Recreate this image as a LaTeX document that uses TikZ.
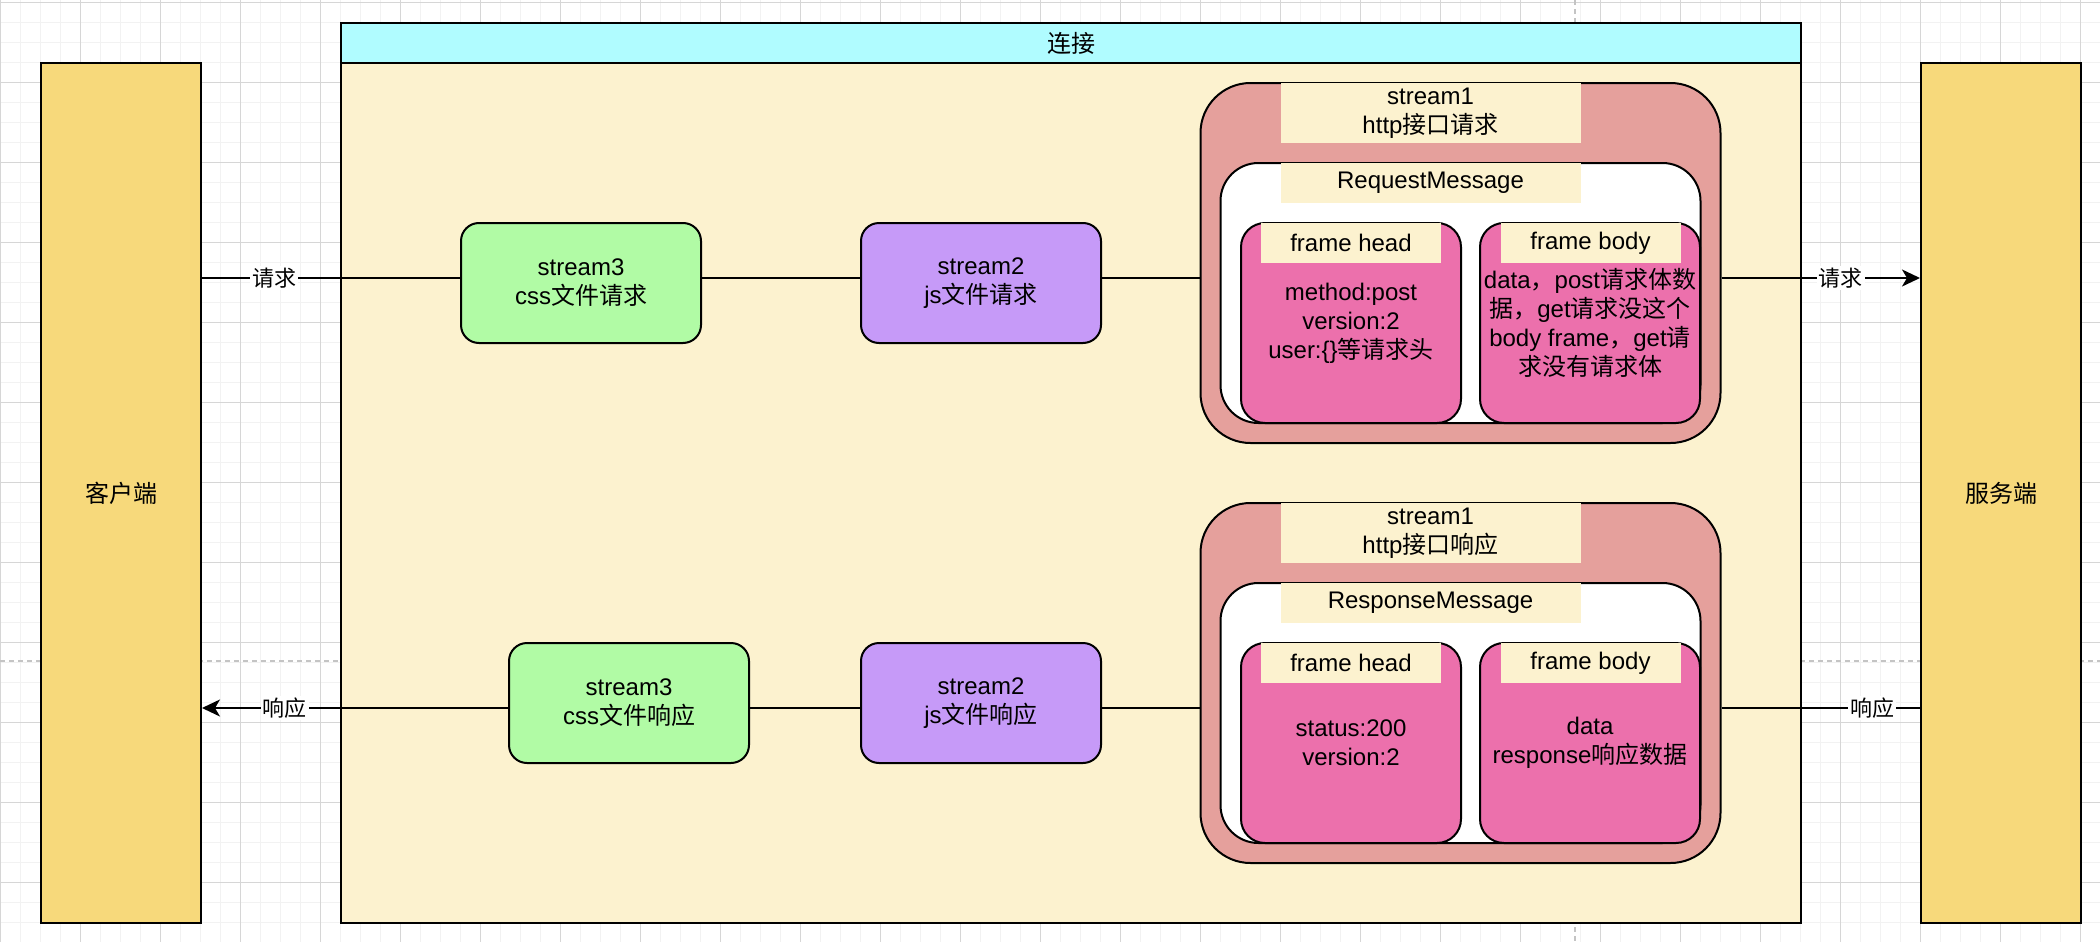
\documentclass[tikz,border=0pt]{standalone}
\usepackage{fontspec}
\setmainfont{Liberation Sans}
\newfontfamily\zhfont{Noto Sans CJK SC}
\newcommand{\zh}[1]{{\zhfont #1}}
\usetikzlibrary{arrows.meta,positioning}
\definecolor{peerfill}{HTML}{F7D97B}
\definecolor{connfill}{HTML}{FCF2CF}
\definecolor{connhead}{HTML}{B0FCFF}
\definecolor{cssfill}{HTML}{B1FBA5}
\definecolor{jsfill}{HTML}{C69AF8}
\definecolor{apifill}{HTML}{E5A09C}
\definecolor{framefill}{HTML}{EC70AC}
\definecolor{gridminor}{HTML}{F2F2F2}
\definecolor{gridmajor}{HTML}{D6D6D6}
\definecolor{gridbreak}{HTML}{C4C4C4}
\begin{document}
\begin{tikzpicture}[x=1pt,y=-1pt,line width=1pt,font=\fontsize{12}{14.4}\selectfont,
    minor line/.style={line width=0.5pt,draw=gridminor},
    major line/.style={line width=0.5pt,draw=gridmajor},
    page break/.style={line width=1pt,draw=gridbreak,dash pattern=on 2.5pt off 2pt},
    peer node/.style={draw,fill=peerfill,minimum width=80pt,minimum height=430pt,inner sep=0pt,font=\fontsize{12}{14.4}\selectfont\zhfont},
    stream node/.style={draw,rounded corners=9pt,minimum width=120pt,minimum height=60pt,inner sep=0pt,align=center},
    group node/.style={draw,fill=apifill,rounded corners=25pt,minimum width=260pt,minimum height=180pt,inner sep=0pt},
    msg node/.style={draw,fill=white,rounded corners=19pt,minimum width=240pt,minimum height=130pt,inner sep=0pt},
    frame node/.style={draw,fill=framefill,rounded corners=12pt,minimum width=110pt,minimum height=100pt,inner sep=0pt,align=center},
    tag node/.style={fill=connfill,inner sep=0pt,align=center},
    edge label/.style={fill=white,inner sep=1pt,font=\fontsize{11}{13}\selectfont\zhfont},
    arrow link/.style={-{Stealth[length=9pt,width=8.5pt,inset=2.5pt]}}]
    \useasboundingbox (0,0) rectangle (1050,471);

    % grid of the canvas
    \fill[white] (0,0) rectangle (1050,471);
    \foreach \x in {0,10,...,1040} \draw[minor line] (\x+0.35,0) -- (\x+0.35,471);
    \foreach \y in {0,10,...,470} \draw[minor line] (0,\y+1.35) -- (1050,\y+1.35);
    \foreach \x in {0,40,...,1040} \draw[major line] (\x+0.35,0) -- (\x+0.35,471);
    \foreach \y in {0,40,...,440} \draw[major line] (0,\y+1.35) -- (1050,\y+1.35);
    \draw[page break] (0,330.5) -- (1050,330.5);
    \draw[page break] (787.5,0) -- (787.5,471);

    % connection
    \node[draw,fill=connfill,minimum width=730pt,minimum height=430pt,inner sep=0pt] (conn) at (535.5,246.5) {};
    \node[draw,fill=connhead,minimum width=730pt,minimum height=20pt,inner sep=0pt,font=\fontsize{12}{14.4}\selectfont\zhfont] (connhead) at (535.5,21.5) {连接};

    \node[peer node] (client) at (60.5,246.5) {客户端};
    \node[peer node] (server) at (1000.5,246.5) {服务端};

    % request
    \node[stream node,fill=cssfill] (s3req) at (290.5,141.5) {stream3\\css\zh{文件请求}};
    \node[stream node,fill=jsfill] (s2req) at (490.5,141.5) {stream2\\js\zh{文件请求}};
    \node[group node] (s1req) at (730.25,131.5) {};
    \node[tag node,minimum width=150pt,minimum height=30pt] (s1reqtag) at (715.25,56.5) {stream1\\http\zh{接口请求}};
    \node[msg node] (reqmsg) at (730.25,146.5) {};
    \node[tag node,minimum width=150pt,minimum height=20pt] (reqmsgtag) at (715.25,91.5) {RequestMessage};
    \node[frame node] (reqhead) at (675.5,161.5) {method:post\\version:2\\user:\{\}\zh{等请求头}};
    \node[tag node,minimum width=90pt,minimum height=20pt] (reqheadtag) at (675.5,121.5) {frame head};
    \node[frame node] (reqbody) at (795,161.5) {data\zh{，}post\zh{请求体数}\\\zh{据，}get\zh{请求没这个}\\body frame\zh{，}get\zh{请}\\\zh{求没有请求体}};
    \node[tag node,minimum width=90pt,minimum height=20pt] (reqbodytag) at (795.25,121.5) {frame body};

    % response
    \node[stream node,fill=cssfill] (s3resp) at (314.5,351.5) {stream3\\css\zh{文件响应}};
    \node[stream node,fill=jsfill] (s2resp) at (490.5,351.5) {stream2\\js\zh{文件响应}};
    \node[group node] (s1resp) at (730.25,341.5) {};
    \node[tag node,minimum width=150pt,minimum height=30pt] (s1resptag) at (715.25,266.5) {stream1\\http\zh{接口响应}};
    \node[msg node] (respmsg) at (730.25,356.5) {};
    \node[tag node,minimum width=150pt,minimum height=20pt] (respmsgtag) at (715.25,301.5) {ResponseMessage};
    \node[frame node] (resphead) at (675.5,371.5) {status:200\\version:2};
    \node[tag node,minimum width=90pt,minimum height=20pt] (respheadtag) at (675.5,331.5) {frame head};
    \node[frame node] (respbody) at (795,371.5) {data\\response\zh{响应数据}};
    \node[tag node,minimum width=90pt,minimum height=20pt] (respbodytag) at (795.25,331.5) {frame body};

    % links
    \coordinate (reqrow) at (0,139);
    \coordinate (resprow) at (0,354);
    \draw (client.east |- reqrow) -- node[edge label,pos=0.28] (reqlbl1) {请求} (s3req.west |- reqrow);
    \draw (s3req.east |- reqrow) -- (s2req.west |- reqrow);
    \draw (s2req.east |- reqrow) -- (s1req.west |- reqrow);
    \draw[arrow link] (s1req.east |- reqrow) -- node[edge label,pos=0.6] (reqlbl2) {请求} (server.west |- reqrow);
    \draw (server.west |- resprow) -- node[edge label,pos=0.24] (resplbl1) {响应} (s1resp.east |- resprow);
    \draw (s1resp.west |- resprow) -- (s2resp.east |- resprow);
    \draw (s2resp.west |- resprow) -- (s3resp.east |- resprow);
    \draw[arrow link] (s3resp.west |- resprow) -- node[edge label,pos=0.73] (resplbl2) {响应} (client.east |- resprow);
\end{tikzpicture}
\end{document}
